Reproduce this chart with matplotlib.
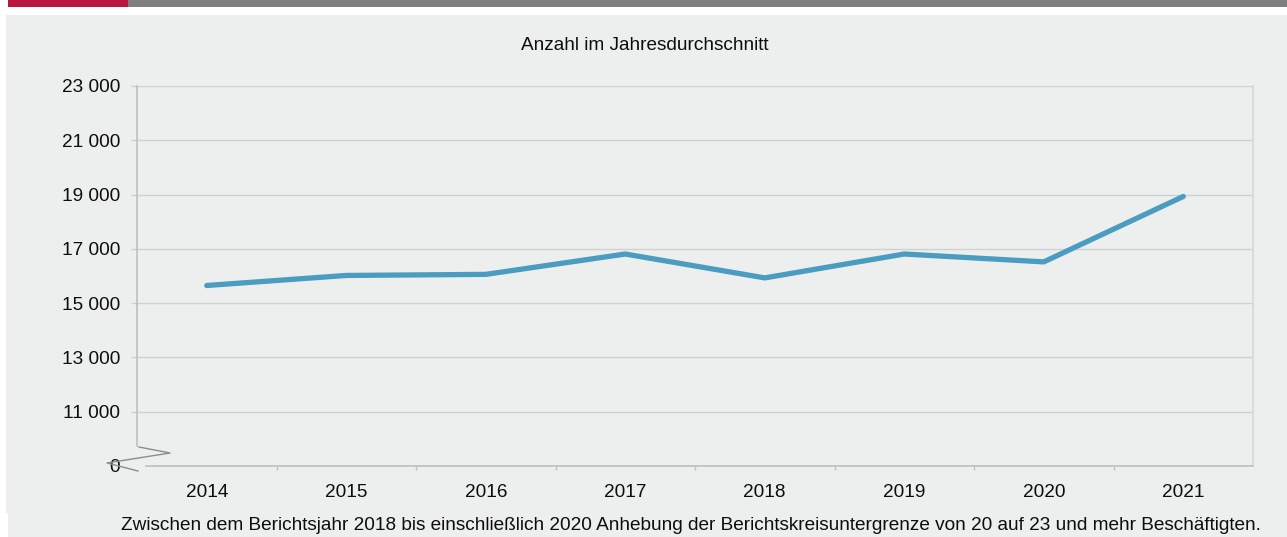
import matplotlib
matplotlib.use("Agg")
import matplotlib.pyplot as plt
from matplotlib.patches import Rectangle
from matplotlib.lines import Line2D

years = ["2014", "2015", "2016", "2017", "2018", "2019", "2020", "2021"]
values = [15650, 16020, 16060, 16810, 15930, 16810, 16520, 18930]
ytick_values = [11000, 13000, 15000, 17000, 19000, 21000, 23000]
ytick_labels = ["11 000", "13 000", "15 000", "17 000", "19 000", "21 000", "23 000"]
break_label = "0"
title = "Anzahl im Jahresdurchschnitt"
footnote = ("Zwischen dem Berichtsjahr 2018 bis einschließlich 2020 Anhebung der "
            "Berichtskreisuntergrenze von 20 auf 23 und mehr Beschäftigten.")

W, H = 1287, 537
plt.rcParams['font.family'] = ['Liberation Sans', 'DejaVu Sans']

fig = plt.figure(figsize=(W / 100, H / 100), dpi=100, facecolor="white")

def fx(px):
    return px / W

def fy(py):
    return 1 - py / H

bg = "#EDEFEE"
txt_c = "#0d0d0d"
# Panel background
fig.patches.append(Rectangle((fx(6), fy(513)), fx(1287 - 6), (513 - 15) / H,
                             transform=fig.transFigure, facecolor=bg, edgecolor="none", zorder=-5))
fig.patches.append(Rectangle((fx(8), fy(537)), fx(1287 - 8), (537 - 512) / H,
                             transform=fig.transFigure, facecolor=bg, edgecolor="none", zorder=-5))
# Top bar
fig.patches.append(Rectangle((fx(8), fy(7)), fx(120), 7 / H,
                             transform=fig.transFigure, facecolor="#BA1540", edgecolor="none", zorder=-4))
fig.patches.append(Rectangle((fx(128), fy(7)), fx(W - 128), 7 / H,
                             transform=fig.transFigure, facecolor="#7F7F7F", edgecolor="none", zorder=-4))

left, right, top, bottom = 137, 1253, 86, 466
ax = fig.add_axes([fx(left), fy(bottom), fx(right - left), (bottom - top) / H])
ax.set_zorder(2)
ax.set_facecolor("none")

ymin, ymax = 9000, 23000
ax.set_ylim(ymin, ymax)
ax.set_xlim(-0.5, len(years) - 0.5)

x = list(range(len(years)))
ax.plot(x, values, color="#4A9CC1", lw=3.8, solid_capstyle="round", solid_joinstyle="round", zorder=3)

grid_c = "#D0D0D0"
axis_c = "#BEBEBE"
for v in ytick_values:
    ax.axhline(v, color=grid_c, lw=1.0, zorder=1)

ax.set_yticks([ymin] + ytick_values)
ax.set_yticklabels([break_label] + ytick_labels)
ax.tick_params(axis="y", length=4, width=1.0, color=grid_c, pad=8, labelsize=13.7, labelcolor=txt_c)
ax.yaxis.get_major_ticks()[0].tick1line.set_visible(False)

ax.set_xticks(x)
ax.set_xticklabels(years)
ax.tick_params(axis="x", which="major", length=0, pad=13, labelsize=13.7, labelcolor=txt_c)
ax.set_xticks([i + 0.5 for i in range(len(years) - 1)], minor=True)
ax.tick_params(axis="x", which="minor", length=3, width=1.0, color=axis_c, direction="out")

ax.spines["top"].set_visible(False)
ax.spines["left"].set_color(axis_c)
ax.spines["left"].set_linewidth(1.2)
px_per_val = (bottom - top) / (ymax - ymin)
ax.spines["left"].set_bounds(ymin + 20 / px_per_val, ymax)
ax.spines["bottom"].set_color(axis_c)
ax.spines["bottom"].set_linewidth(1.2)
ax.spines["bottom"].set_bounds(-0.5 + 9 / ((right - left) / len(years)), len(years) - 0.5)
ax.spines["right"].set_color("#D6D6D6")
ax.spines["right"].set_linewidth(1.2)

# Axis break zigzag
zx = [139, 170, 107, 138]
zy = [447, 453, 463, 471]
fig.lines.append(Line2D([fx(v) for v in zx], [fy(v) for v in zy], transform=fig.transFigure,
                        color="#8C8C8C", lw=1.0, zorder=5))

fig.text(fx(645), fy(46), title, ha="center", va="center", fontsize=13.7, color=txt_c)
fig.text(fx(691), fy(526), footnote, ha="center", va="center", fontsize=13.7, color=txt_c)

fig.savefig("out.png", dpi=100, facecolor="white")
